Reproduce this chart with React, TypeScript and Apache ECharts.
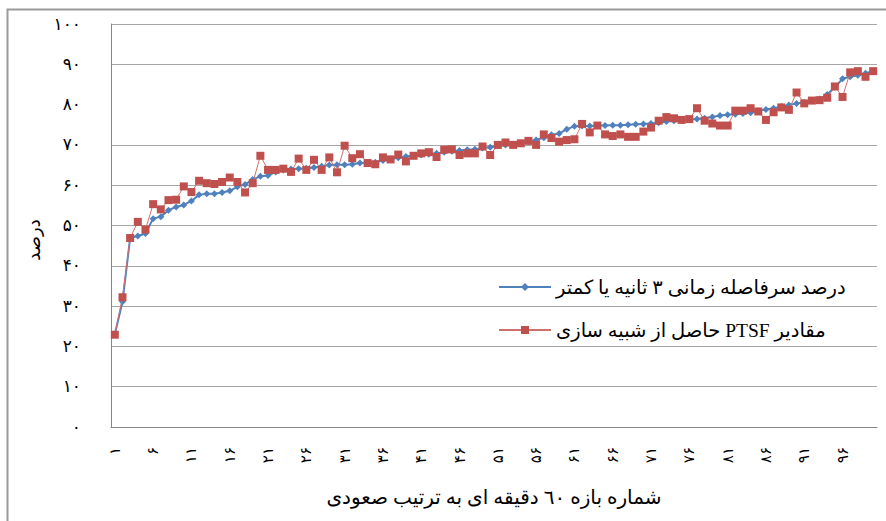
import React, { useEffect, useRef } from "react";
import * as echarts from "echarts";

const categories = [
  1, 2, 3, 4, 5, 6, 7, 8, 9, 10, 11, 12, 13, 14, 15, 16, 17, 18, 19, 20,
  21, 22, 23, 24, 25, 26, 27, 28, 29, 30, 31, 32, 33, 34, 35, 36, 37, 38, 39, 40,
  41, 42, 43, 44, 45, 46, 47, 48, 49, 50, 51, 52, 53, 54, 55, 56, 57, 58, 59, 60,
  61, 62, 63, 64, 65, 66, 67, 68, 69, 70, 71, 72, 73, 74, 75, 76, 77, 78, 79, 80,
  81, 82, 83, 84, 85, 86, 87, 88, 89, 90, 91, 92, 93, 94, 95, 96, 97, 98, 99, 100,
];

const shortHeadwayPct = [
  23.0, 31.1, 46.9, 47.4, 48.0, 51.7, 52.2, 53.8, 54.6, 55.1,
  56.1, 57.6, 57.9, 57.9, 58.2, 58.6, 59.6, 60.2, 61.4, 62.2,
  62.4, 63.3, 63.8, 64.0, 64.1, 64.2, 64.4, 64.7, 65.0, 65.1,
  65.1, 65.2, 65.5, 65.6, 65.7, 66.1, 66.5, 66.8, 67.1, 67.3,
  67.5, 67.7, 67.9, 68.2, 68.4, 68.6, 68.8, 68.9, 69.2, 69.4,
  69.8, 70.0, 70.2, 70.4, 70.8, 71.2, 71.8, 72.5, 72.8, 73.9,
  74.6, 74.7, 74.7, 74.8, 74.8, 74.9, 74.9, 75.0, 75.1, 75.2,
  75.3, 75.5, 75.8, 76.0, 76.2, 76.3, 76.4, 76.6, 76.9, 77.3,
  77.5, 77.6, 77.8, 78.0, 78.4, 78.8, 79.1, 79.5, 79.9, 80.3,
  80.6, 80.9, 81.4, 82.5, 84.3, 86.4, 86.9, 87.3, 87.8, 88.3,
];

const ptsfSimulated = [
  22.9, 32.2, 46.9, 50.9, 49.0, 55.3, 54.0, 56.3, 56.4, 59.7,
  58.3, 61.1, 60.5, 60.3, 60.8, 61.9, 60.8, 58.2, 60.5, 67.3,
  63.8, 63.8, 64.1, 63.3, 66.6, 63.8, 66.3, 63.8, 66.9, 63.2,
  69.8, 66.7, 67.7, 65.5, 65.2, 66.9, 66.4, 67.6, 65.9, 67.3,
  67.9, 68.2, 67.0, 68.8, 68.9, 67.5, 67.9, 67.9, 69.6, 67.5,
  70.0, 70.6, 70.0, 70.4, 71.0, 70.0, 72.6, 71.7, 70.8, 71.2,
  71.4, 75.2, 73.1, 74.8, 72.6, 72.2, 72.6, 72.0, 72.0, 73.3,
  74.3, 76.0, 76.9, 76.6, 76.2, 76.4, 79.1, 76.0, 75.3, 74.8,
  74.8, 78.5, 78.5, 79.1, 78.3, 76.2, 78.1, 79.3, 78.7, 83.0,
  80.3, 81.0, 81.1, 81.7, 84.5, 81.9, 88.0, 88.3, 86.9, 88.3,
];

const yTickLabels = ["۰", "۱۰", "۲۰", "۳۰", "۴۰", "۵۰", "۶۰", "۷۰", "۸۰", "۹۰", "۱۰۰"];

const seriesNames = [
  "درصد سرفاصله زمانی ۳ ثانیه یا کمتر",
  "مقادیر PTSF حاصل از شبیه سازی",
];
const xAxisTitle = "شماره بازه ٦٠ دقیقه ای به ترتیب صعودی";
const yAxisTitle = "درصد";

const persianDigits = "۰۱۲۳۴۵۶۷۸۹";
const toPersian = (s: string | number) =>
  String(s).replace(/[0-9]/g, (d) => persianDigits[Number(d)]);

const FONT = "'Liberation Serif', 'DejaVu Sans', serif";
const GRID = "#a6a6a6";
const splitColors = yTickLabels.map((_, i) => (i === 8 ? "rgba(0,0,0,0)" : GRID));

export default function App() {
  const ref = useRef<HTMLDivElement>(null);

  useEffect(() => {
    if (!ref.current) return;
    const chart = echarts.init(ref.current, undefined, { renderer: "svg" });
    chart.setOption({
      animation: false,
      backgroundColor: "#ffffff",
      textStyle: { fontFamily: FONT },
      grid: {
        left: 111,
        right: 9,
        top: 24,
        bottom: 94,
        containLabel: false,
        outerBoundsMode: "none",
      },
      graphic: [
        {
          type: "rect",
          silent: true,
          shape: { x: 7.5, y: 9.5, width: 940, height: 560 },
          style: { fill: "none", stroke: "#9a9a9a", lineWidth: 2 },
        },
      ],
      legend: {
        orient: "vertical",
        left: 493,
        top: 272,
        itemWidth: 52,
        itemHeight: 10,
        itemGap: 23,
        data: seriesNames,
        formatter: (name: string) => "\u202B" + name + "\u202C",
        textStyle: { fontSize: 19.5, color: "#000", fontFamily: FONT },
      },
      xAxis: {
        type: "category",
        data: categories,
        boundaryGap: true,
        axisLine: { show: true, lineStyle: { color: "#868686", width: 1 } },
        axisTick: { show: false },
        axisLabel: {
          interval: 4,
          rotate: 90,
          margin: 20,
          fontSize: 15,
          color: "#000",
          fontFamily: FONT,
          formatter: (v: string) => toPersian(v),
        },
        splitLine: { show: false },
        name: xAxisTitle,
        nameLocation: "middle",
        nameGap: 60,
        nameTextStyle: { fontSize: 20, color: "#000", fontFamily: FONT },
      },
      yAxis: {
        type: "value",
        min: 0,
        max: 100,
        interval: 10,
        axisLine: { show: true, lineStyle: { color: "#868686", width: 1 } },
        axisTick: { show: false },
        axisLabel: {
          margin: 30,
          fontSize: 17,
          color: "#000",
          fontFamily: FONT,
          formatter: (v: number) => yTickLabels[Math.round(v / 10)],
        },
        splitLine: { show: true, lineStyle: { color: splitColors, width: 1 } },
        name: yAxisTitle,
        nameLocation: "middle",
        nameGap: 68,
        nameTextStyle: {
          fontSize: 18,
          color: "#000",
          fontFamily: FONT,
          padding: [0, 29, 0, 0],
        },
      },
      series: [
        {
          name: seriesNames[0],
          type: "line",
          data: shortHeadwayPct,
          symbol: "diamond",
          symbolSize: 7,
          showAllSymbol: true,
          itemStyle: { color: "#4F81BD" },
          lineStyle: { color: "#4F81BD", width: 2 },
          z: 2,
        },
        {
          name: seriesNames[1],
          type: "line",
          data: ptsfSimulated,
          symbol: "rect",
          symbolSize: 8,
          showAllSymbol: true,
          itemStyle: { color: "#C0504D" },
          lineStyle: { color: "#D0706D", width: 1 },
          z: 3,
        },
      ],
    });
    return () => chart.dispose();
  }, []);

  return (
    <div
      ref={ref}
      style={{ position: "absolute", left: 0, top: 0, width: 886, height: 521, background: "#fff" }}
    />
  );
}
